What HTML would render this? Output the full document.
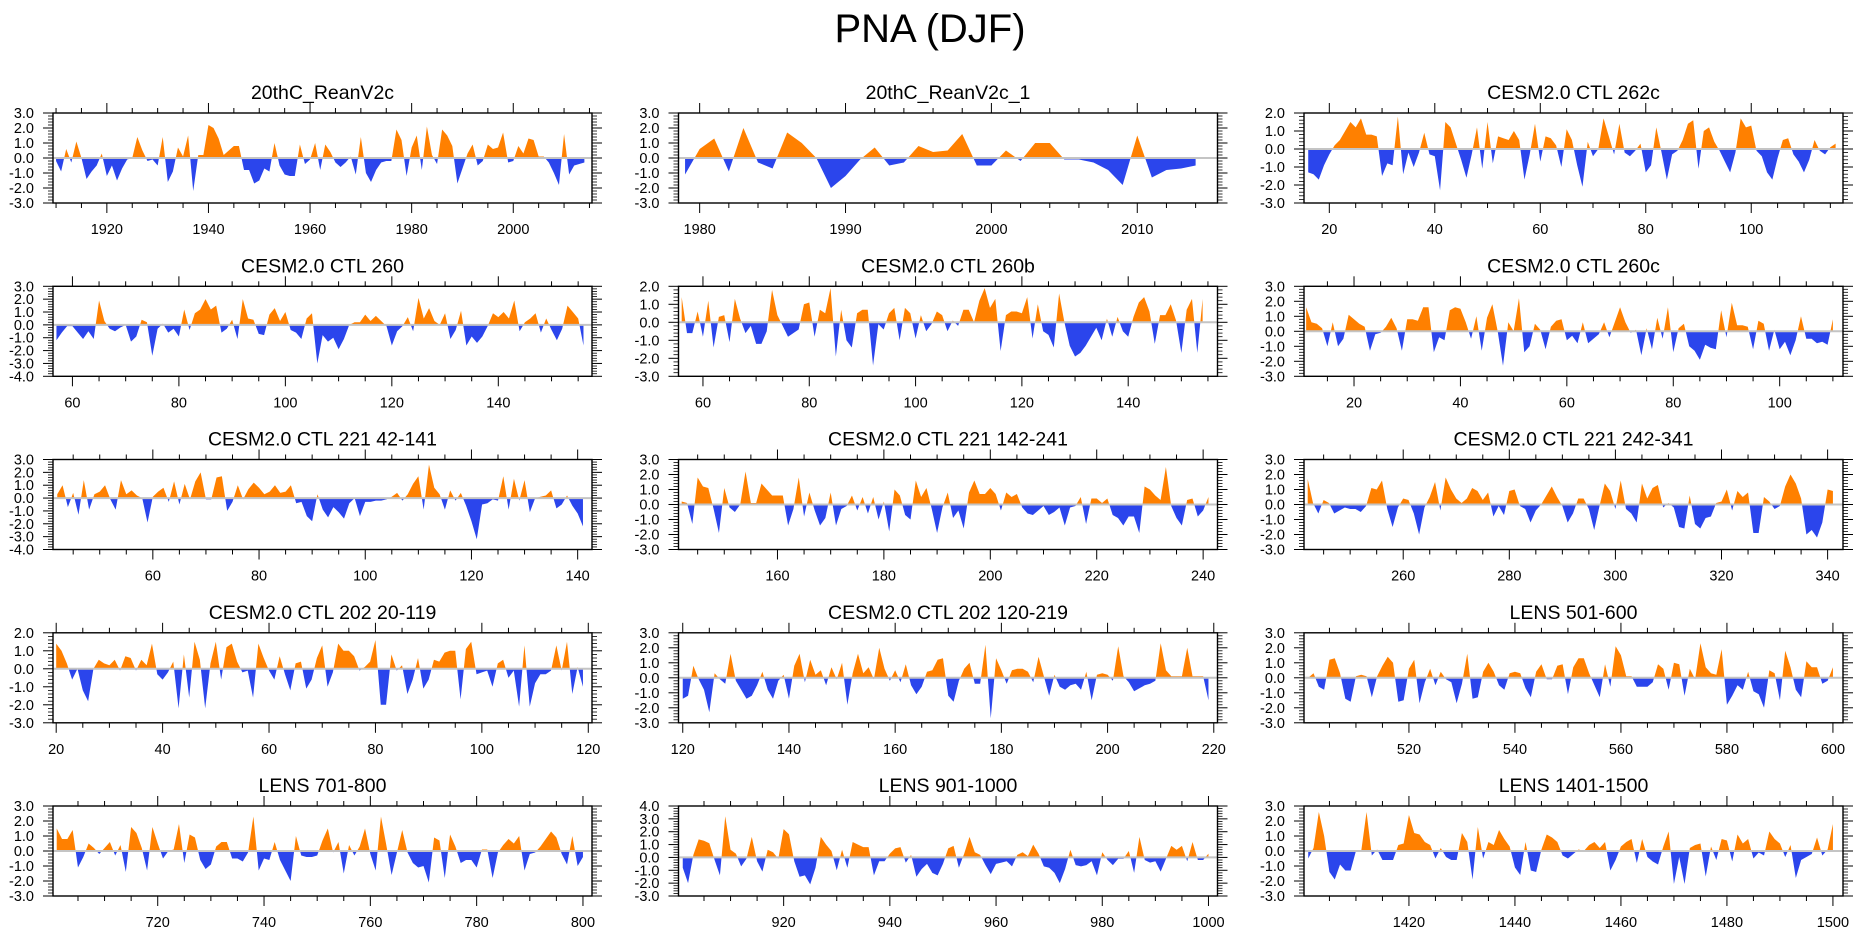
<!DOCTYPE html>
<html><head><meta charset="utf-8"><title>PNA (DJF)</title>
<style>
html,body{margin:0;padding:0;background:#fff;}
svg{display:block;font-family:"Liberation Sans",Arial,sans-serif;}
</style></head>
<body>
<svg id="chart" width="1861" height="936" viewBox="0 0 1861 936" xmlns="http://www.w3.org/2000/svg">
<text x="930" y="42" font-size="40" text-anchor="middle" fill="#000">PNA (DJF)</text>
</svg>
<script>
const p1Values=[-0.2,-0.9,0.6,-0.3,1.1,0.0,-1.4,-0.9,-0.5,0.3,-1.2,-0.5,-1.5,-0.7,-0.1,0.0,1.4,0.5,-0.2,-0.1,-0.5,1.4,-1.6,-0.9,0.7,0.1,1.5,-2.2,0.2,0.2,2.2,2.0,1.3,0.2,0.5,0.8,0.8,-0.8,-0.8,-1.7,-1.5,-0.7,-0.9,1.0,-0.5,-1.1,-1.2,-1.2,0.9,-0.4,-0.1,1.0,-0.8,0.9,0.4,-0.3,-0.6,-0.3,0.1,-1.1,1.4,-1.0,-1.6,-0.8,-0.3,-0.2,-0.2,1.9,1.2,-1.2,0.7,1.5,-0.8,2.1,0.2,-0.4,1.9,1.5,0.8,-1.7,-0.7,0.3,0.9,-0.5,-0.2,0.9,0.6,0.7,1.7,-0.3,-0.2,0.8,0.3,1.3,1.2,0.1,0.1,-0.3,-1.0,-1.8,1.6,-1.1,-0.5,-0.4,-0.3];
const p2Values=[-1.1,0.6,1.3,-0.9,2.0,-0.3,-0.7,1.7,1.0,0.0,-2.0,-1.2,-0.1,0.7,-0.5,-0.3,0.8,0.4,0.5,1.6,-0.5,-0.5,0.5,-0.2,1.0,1.0,-0.1,-0.1,-0.3,-0.8,-1.8,1.5,-1.3,-0.8,-0.7,-0.5];
const p3Values=[-1.3,-1.4,-1.7,-0.9,-0.3,0.2,0.5,1.0,1.5,1.2,1.7,0.8,0.8,0.7,-1.5,-0.8,-0.9,1.8,-1.4,-0.2,-1.0,-0.2,0.9,-0.3,-0.4,-2.3,1.5,1.2,0.3,-0.6,-1.6,-0.3,1.2,-1.1,1.5,-0.8,0.7,0.6,0.5,1.0,0.5,-1.7,-0.3,1.4,-0.7,0.7,0.6,0.2,-1.0,1.1,0.5,-0.9,-2.1,0.4,-0.4,0.0,1.7,0.7,-0.3,1.4,-0.2,-0.4,-0.1,0.3,-1.3,-0.9,1.2,-0.2,-1.7,-0.3,-0.1,0.5,1.4,1.6,-1.1,1.0,1.2,0.4,-0.1,-0.7,-1.3,-0.2,1.7,1.2,1.3,-0.1,-0.4,-1.3,-1.7,-0.5,0.5,0.6,-0.3,-0.7,-1.3,-0.6,0.5,-0.1,-0.3,0.1,0.3];
const p4Values=[-1.2,-0.6,-0.1,-0.1,-0.6,-1.1,-0.5,-1.1,1.9,0.3,-0.3,-0.5,-0.2,0.0,-1.3,-0.9,0.4,0.2,-2.4,-0.3,0.1,-0.6,-0.3,-0.9,1.2,-0.4,0.9,1.2,2.0,1.2,1.5,-0.6,-0.3,0.4,-1.1,2.0,0.5,0.4,-0.7,-0.8,0.8,1.3,0.3,1.0,-0.4,-0.6,-1.1,0.5,0.9,-3.0,-0.8,-1.3,-1.0,-1.9,-1.1,0.0,0.2,0.2,0.8,0.3,0.7,0.3,-0.1,-1.6,-0.5,-0.1,0.6,-0.5,2.1,0.5,1.3,0.3,0.0,0.9,-1.1,-0.4,1.1,-1.6,-0.9,-1.4,-0.9,-0.1,0.9,0.6,1.0,0.5,1.9,-0.5,0.2,0.5,0.9,-0.6,0.5,-0.4,-1.2,-0.3,1.5,1.0,0.5,-1.6];
const p5Values=[1.4,-0.6,-0.6,0.6,-0.8,1.2,-1.4,0.3,0.4,-1.1,1.3,0.2,-0.6,-0.2,-1.2,-1.2,-0.5,1.8,0.4,-0.2,-0.8,-0.6,-0.4,1.0,1.1,-0.8,0.7,0.5,1.9,-1.9,0.7,-1.0,-1.4,0.5,0.7,0.7,-2.4,-0.1,-0.4,0.5,0.8,-1.0,0.8,0.5,-0.9,0.4,-0.5,-0.1,0.6,0.4,-0.5,0.1,-0.2,0.7,0.7,0.0,1.2,1.9,0.8,1.3,-1.6,0.4,0.6,0.6,0.5,1.4,-0.9,1.0,-0.5,-0.7,-1.4,1.6,0.0,-1.3,-1.9,-1.7,-1.3,-0.8,-0.3,-1.0,0.2,-0.8,0.3,-0.5,-0.8,0.3,1.1,1.4,0.6,-1.2,0.4,0.4,1.0,0.1,-1.7,0.7,1.3,-1.7,1.3];
const p6Values=[1.6,0.6,0.5,0.2,-1.0,0.6,-1.0,-0.5,1.1,0.8,0.5,0.3,-1.3,-0.2,-0.1,0.3,0.9,0.2,-1.3,0.8,0.8,0.7,1.6,1.6,-1.4,-0.4,-0.6,1.4,1.6,1.5,0.6,-0.5,1.0,-1.3,0.9,1.8,0.0,-2.3,0.6,0.0,2.2,-1.4,-1.0,0.5,0.1,-1.2,0.3,0.7,0.8,-0.6,-0.3,-0.8,0.6,-0.8,-0.5,-0.2,0.6,-0.4,0.6,1.6,0.6,-0.1,0.1,-1.6,0.2,-1.2,0.9,-0.5,1.6,-1.4,0.2,0.5,-1.0,-1.3,-1.9,-0.9,-1.1,-1.2,1.4,-0.4,1.9,0.4,0.4,0.3,-1.2,0.7,0.5,-1.3,0.1,-1.2,-0.7,-1.6,-0.6,1.0,-0.5,-0.5,-0.8,-0.7,-0.9,0.8];
const p7Values=[0.3,1.0,-0.7,0.4,-1.3,1.4,-0.9,0.3,0.5,1.0,-0.1,-0.9,1.4,0.3,0.6,0.2,0.0,-1.9,0.1,0.5,0.8,-0.3,1.3,-0.5,1.1,-0.1,1.3,2.0,-0.1,-0.1,1.6,1.7,-1.0,-0.3,1.0,-0.1,0.7,1.2,0.8,0.3,0.5,1.0,0.4,0.5,1.0,-0.4,-0.3,-1.4,-1.8,0.3,-0.9,-1.5,-0.7,-1.1,-1.6,-0.4,0.0,-1.4,-0.3,-0.3,-0.2,-0.2,-0.1,0.1,0.4,-0.2,0.3,1.1,1.7,-0.9,2.6,0.8,0.3,-0.9,0.6,-0.2,0.4,-0.6,-1.8,-3.2,-0.5,-0.4,-0.1,-0.2,1.7,-0.9,1.5,-0.2,1.4,-1.1,0.0,0.1,0.2,0.6,-0.8,-0.5,0.2,-0.6,-1.2,-2.2];
const p8Values=[0.2,0.1,-1.3,1.8,1.2,1.1,-0.3,-1.9,1.1,-0.2,-0.5,0.0,2.2,0.1,0.1,1.4,1.0,0.6,0.6,0.6,-1.4,-0.3,1.8,-0.8,0.8,-0.4,-1.4,-0.9,0.8,-1.4,-0.3,-0.1,0.6,-0.4,0.5,-0.6,0.5,-1.0,0.2,-1.8,1.0,0.6,-0.7,-1.0,1.6,0.5,1.1,-0.3,-1.9,-0.2,0.8,-0.9,-0.4,-1.6,0.8,1.6,0.7,0.7,1.1,0.7,-0.4,0.8,0.5,0.7,-0.2,-0.6,-0.7,-0.4,-0.1,-0.7,-0.5,-0.2,-1.4,-0.2,-0.1,0.5,-1.3,0.4,0.4,0.1,0.4,-0.7,-0.9,-1.4,-0.8,-0.8,-1.9,1.2,1.0,0.6,0.3,2.5,-0.1,-0.9,-1.4,0.3,0.4,-0.8,-0.4,0.5];
const p9Values=[1.7,0.1,-0.6,0.3,0.1,-0.6,-0.4,-0.2,-0.3,-0.3,-0.5,-0.1,1.1,1.0,1.6,-0.3,-1.5,-0.2,0.4,0.3,-0.6,-2.0,-0.2,0.5,1.5,-0.4,1.8,1.0,0.4,0.1,0.4,1.1,0.9,0.3,0.8,-0.8,-0.1,-0.7,0.9,1.0,-0.1,-0.3,-1.2,-0.4,0.0,0.6,1.2,0.5,-0.1,-1.2,-0.6,0.4,0.4,-0.3,-1.7,-0.1,1.4,0.9,-0.3,1.6,-0.3,-0.6,-1.2,1.4,0.4,1.1,1.3,-0.2,0.1,-0.2,-1.5,-1.6,0.6,-1.3,-1.6,-0.9,-0.8,0.1,0.2,1.0,-0.4,0.9,0.5,0.8,-1.9,-1.9,0.5,0.2,-0.3,-0.1,1.2,2.0,1.4,0.4,-2.0,-1.7,-2.2,-1.2,1.0,0.9];
const p10Values=[1.4,1.0,0.3,-0.6,0.0,-1.2,-1.8,0.0,0.5,0.3,0.2,0.5,-0.1,0.7,0.6,-0.1,0.5,0.2,1.4,-0.3,-0.6,-0.2,0.4,-2.2,0.8,-1.6,1.5,0.5,-2.2,0.3,1.5,-0.6,1.2,1.4,0.4,-0.2,-0.1,-1.6,1.4,0.6,-0.1,-0.6,0.7,-0.3,-1.2,0.3,0.4,-1.1,-0.6,0.6,1.3,-1.0,-0.2,1.4,1.0,1.0,0.7,-0.1,0.1,0.4,1.6,-2.0,-2.0,0.8,-0.1,0.2,-1.4,-0.6,0.6,-1.1,-0.6,0.5,0.4,0.9,1.0,1.0,-1.7,1.1,1.5,-0.3,-0.2,-0.1,-1.0,0.3,0.5,-0.5,-0.1,-2.1,1.3,-2.1,-0.8,-0.3,-0.3,-0.1,1.3,-0.1,1.5,-1.4,0.1,-1.0];
const p11Values=[-1.4,-1.2,0.8,-0.1,-0.8,-2.3,0.3,-0.1,-0.4,1.6,-0.2,-0.8,-1.4,-1.2,-0.5,0.4,-0.8,-1.4,-0.2,0.2,-1.4,0.8,1.6,-0.3,1.2,0.2,0.5,-0.5,0.7,-0.1,1.0,-1.8,0.3,1.6,0.3,0.7,-0.1,2.0,0.6,-0.2,0.5,-0.3,0.9,-0.5,-1.1,-0.6,0.4,0.5,1.2,1.3,-1.2,-1.6,-0.2,0.6,1.0,-0.4,-0.4,2.2,-2.7,1.3,0.5,-0.4,0.5,0.6,0.6,0.4,-0.3,1.4,0.1,-1.2,0.2,-0.6,-0.8,-0.5,-0.4,-0.8,0.4,-1.5,0.2,0.3,0.2,-0.2,2.1,0.1,-0.3,-0.9,-0.7,-0.5,-0.4,-0.2,2.3,0.5,0.1,0.1,0.1,2.0,0.1,0.1,0.1,-1.5];
const p12Values=[0.0,0.3,-0.6,-0.8,1.2,1.3,0.3,-1.4,-1.6,0.1,0.2,0.1,-1.3,0.1,0.8,1.4,1.0,-1.6,-1.5,0.6,1.2,-1.7,-0.3,0.6,-0.5,0.4,-0.1,-0.3,-1.7,-0.4,1.6,-1.4,-1.3,0.4,1.0,0.4,-0.5,-0.8,0.3,0.4,0.3,-0.7,-1.3,0.4,0.9,-0.1,-0.1,0.8,0.9,-1.1,0.7,1.3,1.3,0.3,-0.5,-1.3,0.9,-0.6,2.1,1.5,0.1,0.1,-0.6,-0.6,-0.6,-0.3,0.9,0.6,-0.8,1.0,0.9,-1.2,0.6,-0.1,2.3,0.7,0.3,0.2,1.9,-1.8,-1.2,-0.5,-0.8,0.4,-0.9,-1.1,-2.0,0.5,0.3,-1.5,1.8,0.7,-0.8,-1.3,1.1,0.7,0.7,-0.4,-0.2,0.7];
const p13Values=[1.5,0.8,0.8,1.4,-1.1,-0.4,0.5,0.2,-0.2,0.2,0.6,-0.3,0.4,-1.4,1.6,1.2,0.2,-1.3,1.6,0.5,-0.5,0.0,0.1,1.8,-0.8,1.1,0.9,-0.6,-1.2,-0.9,0.3,0.6,0.6,-0.5,-0.5,-0.7,-0.1,2.3,-1.3,-0.5,-0.6,0.6,-0.6,-1.3,-2.0,1.0,-0.3,-0.4,-0.4,-0.3,0.7,1.5,-0.1,0.6,-1.5,0.4,-0.3,0.3,1.5,-0.2,-1.3,2.3,0.4,-1.6,-0.1,1.4,-0.1,-0.8,-1.1,-1.0,-2.1,0.9,0.7,-1.8,1.1,0.3,-0.8,-0.6,-0.6,-1.1,0.1,0.1,-1.8,-0.1,0.4,0.8,0.5,1.0,-1.3,-0.2,-0.1,0.3,0.8,1.3,0.9,-0.2,-0.9,1.0,-1.0,-0.4];
const p14Values=[-0.8,-2.0,0.2,1.4,1.3,1.1,-0.2,-1.4,3.2,0.6,0.3,-0.7,-0.1,1.6,-0.3,-1.1,0.6,0.4,-0.1,2.2,1.8,-0.3,-1.5,-1.4,-2.1,-0.8,1.6,1.0,0.5,-1.0,0.6,-0.8,1.2,1.0,0.8,0.8,-1.4,-0.3,-0.3,0.3,0.7,0.8,-0.4,0.2,-1.5,-0.9,-0.5,-1.2,-1.4,-0.5,0.7,0.9,-0.8,0.3,1.6,0.4,0.2,-0.6,-1.3,-0.5,-0.4,-0.3,-0.7,0.2,0.4,0.1,1.0,0.3,-0.7,-0.8,-1.2,-2.0,-0.9,0.6,-0.6,-0.7,-0.6,-0.3,-1.4,0.4,-0.2,-0.6,-0.1,-0.1,0.5,-1.2,1.6,-0.2,-0.4,-0.3,-1.1,-0.1,0.9,0.6,0.9,-0.3,1.2,-0.2,-0.2,0.3];
const p15Values=[-0.5,0.2,2.6,1.0,-1.4,-1.9,-0.9,-1.3,-1.3,0.0,0.0,2.6,-0.3,0.1,-0.6,-0.6,-0.6,0.4,0.5,2.4,1.2,1.1,0.6,0.4,-0.5,0.2,-0.4,-0.6,-0.6,1.2,0.6,-1.9,1.6,-0.5,0.6,0.4,1.4,0.8,0.3,-1.1,-1.6,0.6,-1.3,-1.4,0.1,1.1,0.9,0.6,-0.3,-0.5,-0.2,0.1,0.0,0.4,0.6,0.2,0.6,-1.3,-0.6,0.3,0.6,0.8,-0.8,0.8,-0.4,-0.7,-0.9,0.3,1.3,-2.2,-0.4,-2.2,0.2,0.4,0.5,-1.7,0.3,-0.6,0.8,0.7,-0.7,1.1,0.5,0.8,-0.5,-0.1,-0.3,1.3,0.8,0.5,-0.4,0.4,-1.8,-0.6,-0.4,-0.2,0.9,-0.3,0.1,1.8];

const panelTitles=["20thC_ReanV2c","20thC_ReanV2c_1","CESM2.0 CTL 262c","CESM2.0 CTL 260","CESM2.0 CTL 260b","CESM2.0 CTL 260c","CESM2.0 CTL 221 42-141","CESM2.0 CTL 221 142-241","CESM2.0 CTL 221 242-341","CESM2.0 CTL 202 20-119","CESM2.0 CTL 202 120-219","LENS 501-600","LENS 701-800","LENS 901-1000","LENS 1401-1500"];
const panelStarts=[1910,1979,16,57,56,11,42,142,242,20,120,501,701,901,1401];
const panelSeries=[p1Values,p2Values,p3Values,p4Values,p5Values,p6Values,p7Values,p8Values,p9Values,p10Values,p11Values,p12Values,p13Values,p14Values,p15Values];
const xMins=[1909.4,1978.55,15.2,56.35,55.4,10.6,41.2,141.4,241.3,19.4,119.2,500.2,700.3,900.2,1400.2];
const xMaxs=[2015.5,2015.5,117.4,157.6,156.8,111.9,142.7,242.7,342.9,120.7,220.7,601.9,801.7,1001.7,1501.9];
const yMaxs=[3,3,2,3,2,3,3,3,3,2,3,3,3,4,3];
const yMins=[-3,-3,-3,-4,-3,-3,-4,-3,-3,-3,-3,-3,-3,-3,-3];
const xMajorSteps=[20,10,20,20,20,20,20,20,20,20,20,20,20,20,20];
const xMinorSteps=[5,2,5,5,5,5,5,5,5,5,5,5,5,5,5];

const NS="http://www.w3.org/2000/svg";
const svg=document.getElementById('chart');
const colLefts=[53,678.5,1304], rowTops=[113,286.3,459.5,632.8,806];
const PW=539, PH=90;
function mk(tag,attrs,parent){const e=document.createElementNS(NS,tag);for(const k in attrs)e.setAttribute(k,attrs[k]);(parent||svg).appendChild(e);return e;}

panelSeries.forEach((vals,i)=>{
  const col=i%3,row=Math.floor(i/3);
  const L=colLefts[col],T=rowTops[row];
  const x0=xMins[i],x1=xMaxs[i],y0=yMins[i],y1=yMaxs[i];
  const sx=v=>L+(v-x0)/(x1-x0)*PW;
  const sy=v=>T+(y1-v)/(y1-y0)*PH;
  const g=mk('g',{});
  
  
  const t=mk('text',{x:L+PW/2,y:T-14,'font-size':19.5,'text-anchor':'middle',fill:'#000'},g);
  
  
  t.textContent=panelTitles[i];
  const zy=sy(0);
  const cid='c'+i;
  const defs=mk('defs',{},g);
  const cu=mk('clipPath',{id:cid+'u'},defs); mk('rect',{x:L,y:T,width:PW,height:zy-T},cu);
  const cl=mk('clipPath',{id:cid+'l'},defs); mk('rect',{x:L,y:zy,width:PW,height:T+PH-zy},cl);
  let d='M'+sx(panelStarts[i]).toFixed(2)+','+zy.toFixed(2);
  vals.forEach((v,k)=>{d+=' L'+sx(panelStarts[i]+k).toFixed(2)+','+sy(v).toFixed(2);});
  d+=' L'+sx(panelStarts[i]+vals.length-1).toFixed(2)+','+zy.toFixed(2)+' Z';
  const up=mk('path',{d:d,fill:'#ff8000','clip-path':'url(#'+cid+'u)'},g);
  
  
  const dn=mk('path',{d:d,fill:'#2b45ec','clip-path':'url(#'+cid+'l)'},g);
  
  
  const zl=mk('line',{x1:L,x2:L+PW,y1:zy,y2:zy,stroke:'#c4c4c4','stroke-width':2},g);
  
  
  const fr=mk('rect',{x:L,y:T,width:PW,height:PH,fill:'none',stroke:'#000','stroke-width':1.4},g);
  
  
  // x ticks
  const ms=xMinorSteps[i];
  for(let v=Math.ceil(x0/ms)*ms;v<=x1;v+=ms){
    const major=(v%xMajorSteps[i]===0), len=major?10:5, X=sx(v);
    mk('line',{x1:X,x2:X,y1:T+PH,y2:T+PH+len,stroke:'#000','stroke-width':1},g);
    mk('line',{x1:X,x2:X,y1:T,y2:T-len,stroke:'#000','stroke-width':1},g);
    if(major){
      const lb=mk('text',{x:X,y:T+PH+31,'font-size':14.5,'text-anchor':'middle',fill:'#000'},g);
      
      
      lb.textContent=String(v);
    }
  }
  // y ticks
  const n=Math.round((y1-y0)/0.2);
  for(let k=0;k<=n;k++){
    const v=y0+k*0.2, major=(k%5===0), len=major?10:5, Y=sy(v);
    mk('line',{x1:L,x2:L-len,y1:Y,y2:Y,stroke:'#000','stroke-width':major?1:0.8},g);
    mk('line',{x1:L+PW,x2:L+PW+len,y1:Y,y2:Y,stroke:'#000','stroke-width':major?1:0.8},g);
    if(major){
      const lb=mk('text',{x:L-19,y:Y+5,'font-size':14.5,'text-anchor':'end',fill:'#000'},g);
      
      
      lb.textContent=v.toFixed(1);
    }
  }
});
</script>
</body></html>
